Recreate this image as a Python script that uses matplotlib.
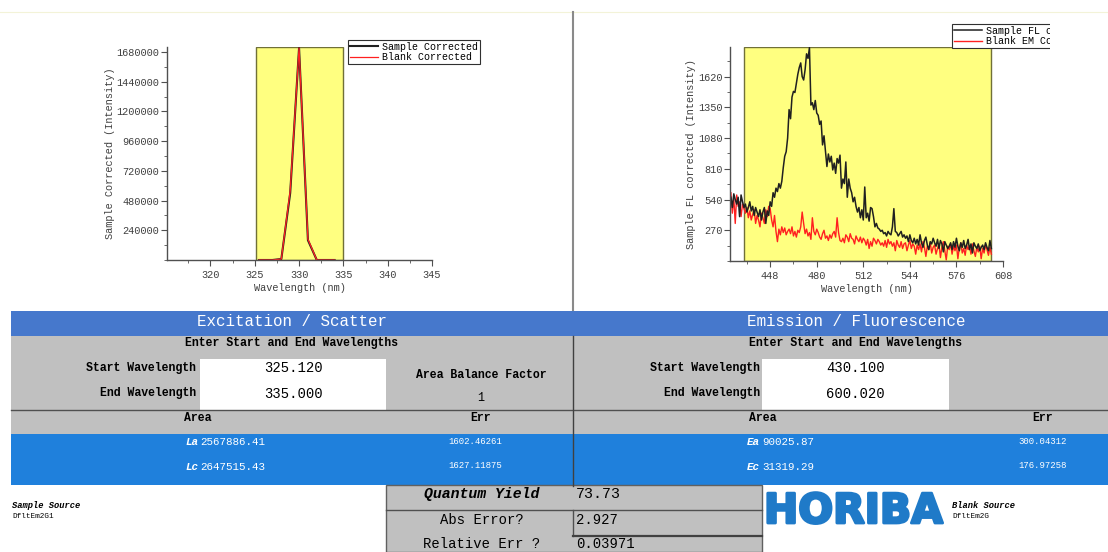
import matplotlib
matplotlib.use("Agg")
import matplotlib.pyplot as plt
import matplotlib.patheffects as pe
from matplotlib.patches import Rectangle
from matplotlib.ticker import MultipleLocator, FixedLocator
import numpy as np

W, H = 1108, 552
MONO = "Liberation Mono"

# excitation / scatter scan
ex_wl = [325.5, 326, 327, 328, 329, 330, 331, 332, 333, 334]
ex_sample = [0, 0, 0, 8000, 540000, 1712000, 160000, 0, 0, 0]
ex_blank = [0, 0, 0, 8000, 560000, 1712000, 168000, 0, 0, 0]
ex_window = (325.12, 335.0)

# emission / fluorescence scan, 1 nm steps 421..600
em_wl = np.arange(421, 601)
em_sample = [
    560, 470, 590, 540, 500, 560, 390, 580, 520, 470,
    500, 430, 470, 520, 440, 480, 400, 470, 430, 390,
    450, 360, 430, 470, 330, 440, 400, 520, 480, 600,
    560, 640, 610, 680, 640, 700, 820, 920, 960, 1080,
    1330, 1250, 1440, 1490, 1480, 1560, 1640, 1700, 1740, 1620,
    1590, 1680, 1820, 1780, 1875, 1370, 1390, 1330, 1410, 1300,
    1280, 1200, 1230, 1020, 1100, 960, 830, 940, 870, 920,
    800, 860, 770, 900, 860, 930, 640, 720, 680, 870,
    560, 720, 640, 600, 520, 560, 480, 430, 470, 380,
    450, 360, 650, 380, 420, 350, 470, 460, 390, 300,
    330, 290, 280, 260, 270, 240, 250, 220, 260, 240,
    230, 300, 460, 260, 250, 220, 240, 260, 210, 230,
    200, 220, 170, 230, 180, 160, 200, 150, 190, 140,
    230, 160, 120, 180, 210, 140, 100, 170, 150, 200,
    160, 130, 190, 110, 180, 150, 80, 170, 140, 110,
    130, 160, 100, 170, 120, 200, 130, 90, 160, 120,
    180, 110, 140, 190, 100, 150, 70, 160, 130, 110,
    150, 90, 120, 140, 100, 160, 120, 90, 180, 110,
]
em_blank = [
    600, 420, 560, 330, 580, 480, 520, 390, 500, 460,
    420, 470, 380, 440, 360, 410, 450, 330, 400, 360,
    300, 420, 380, 330, 450, 390, 480, 460, 360, 300,
    400, 260, 170, 280, 230, 300, 250, 290, 230, 260,
    280, 240, 300, 220, 260, 210, 270, 250, 300, 430,
    330, 240, 280, 220, 250, 190, 380, 260, 230, 280,
    250, 210, 190, 240, 270, 200, 220, 180, 230, 200,
    240, 260, 210, 380, 250, 180, 170, 200, 160, 230,
    210, 170, 240, 200, 190, 150, 220, 190, 170, 210,
    160, 200, 180, 140, 190, 110, 170, 130, 200, 180,
    150, 190, 170, 140, 160, 130, 180, 120, 190, 150,
    170, 130, 160, 90, 180, 140, 120, 170, 110, 150,
    160, 90, 140, 180, 110, 150, 130, 60, 140, 100,
    150, 80, 170, 120, 40, 130, 100, 160, 70, 120,
    140, 60, 110, 150, 30, 120, 170, 90, 10, 130,
    100, 150, 60, 130, 90, 140, 20, 120, 160, 70,
    110, 50, 140, 100, 130, 60, 150, 90, 40, 120,
    80, 130, 20, 110, 70, 140, 100, 50, 120, 60,
]
em_window = (430.10, 600.02)

# results table
ex_range = ["325.120", "335.000"]
em_range = ["430.100", "600.020"]
balance_factor = "1"
ex_rows = [("La", "2567886.41", "1602.46261"), ("Lc", "2647515.43", "1627.11875")]
em_rows = [("Ea", "90025.87", "300.04312"), ("Ec", "31319.29", "176.97258")]
qy_rows = [("Quantum Yield", "73.73"), ("Abs Error?", "2.927"), ("Relative Err ?", "0.03971")]
sample_source = "DfltEm2G1"
blank_source = "DfltEm2G"

HEAD_BLUE = "#4678cc"
ROW_BLUE = "#1f80dc"
GRAY = "#c0c0c0"
WIN_YELLOW = "#ffff80"
LOGO_BLUE = "#1f7ac8"

fig = plt.figure(figsize=(W / 100, H / 100), dpi=100)

# pixel-space layer for the panel/table
ui = fig.add_axes([0, 0, 1, 1], zorder=0)
ui.set_xlim(0, W)
ui.set_ylim(H, 0)
ui.axis("off")


def box(x0, y0, x1, y1, fc, ec="none", lw=0):
    ui.add_patch(Rectangle((x0, y0), x1 - x0, y1 - y0, facecolor=fc,
                           edgecolor=ec, linewidth=lw))


def txt(x, y, s, size=8.3, ha="center", color="black", weight="normal", style="normal"):
    ui.text(x, y, s, ha=ha, va="center", fontsize=size, color=color,
            family=MONO, fontweight=weight, fontstyle=style)


# top rule and the divider between the two spectra
ui.plot([0, W], [12, 12], color="#f3f3d8", lw=0.8)
ui.plot([573, 573], [12, 310], color="#8a8a8a", lw=1.5)

# header bar
box(11, 311, W, 336, HEAD_BLUE)
txt(292, 322, "Excitation / Scatter", size=11.4, color="white")
txt(856, 322, "Emission / Fluorescence", size=11.4, color="white")

# wavelength entry area
box(11, 336, W, 434, GRAY)
for cx, rng, lx, bx in [(292, ex_range, 196, (200, 386)), (856, em_range, 760, (762, 949))]:
    txt(cx, 343, "Enter Start and End Wavelengths", weight="bold")
    txt(lx, 368, "Start Wavelength", ha="right", weight="bold")
    txt(lx, 393, "End Wavelength", ha="right", weight="bold")
    box(bx[0], 359, bx[1], 410, "white")
    mid = (bx[0] + bx[1]) / 2
    txt(mid, 368, rng[0], size=10)
    txt(mid, 394, rng[1], size=10)
txt(481, 375, "Area Balance Factor", weight="bold")
txt(481, 398, balance_factor, size=8.5)
ui.plot([11, W], [410, 410], color="#505050", lw=1)
txt(198, 418, "Area", weight="bold")
txt(481, 418, "Err", weight="bold")
txt(763, 418, "Area", weight="bold")
txt(1043, 418, "Err", weight="bold")

# area rows
box(11, 434, W, 485, ROW_BLUE)
for i, y in enumerate([442, 467]):
    tag, area, err = ex_rows[i]
    txt(198, y, tag, size=7.8, ha="right", color="white", weight="bold", style="italic")
    txt(200, y, area, size=7.8, ha="left", color="white")
    txt(475, y - 1, err, size=6.5, color="white")
    tag, area, err = em_rows[i]
    txt(760, y, tag, size=7.8, ha="right", color="white", weight="bold", style="italic")
    txt(762, y, area, size=7.8, ha="left", color="white")
    txt(1043, y - 1, err, size=6.5, color="white")
ui.plot([573, 573], [336, 486], color="#404040", lw=1)

# quantum yield block
box(386, 485, 762, 552, GRAY, ec="#606060", lw=1)
ui.plot([386, 762], [510, 510], color="#505050", lw=1)
ui.plot([573, 573], [510, 536], color="#505050", lw=1)
ui.plot([573, 762], [536, 536], color="#404040", lw=1.6)
txt(482, 494, qy_rows[0][0], size=10.7, weight="bold", style="italic")
txt(576, 494, qy_rows[0][1], size=10.8, ha="left")
txt(482, 520, qy_rows[1][0], size=10)
txt(576, 520, qy_rows[1][1], size=10, ha="left")
txt(482, 544, qy_rows[2][0], size=10)
txt(576, 544, qy_rows[2][1], size=10, ha="left")

# sources and logo
txt(12, 505, "Sample Source", size=6.3, ha="left", weight="bold", style="italic")
txt(12, 516, sample_source, size=5.5, ha="left")
txt(952, 505, "Blank Source", size=6.3, ha="left", weight="bold", style="italic")
txt(952, 516, blank_source, size=5.5, ha="left")
ui.text(764, 512, "HORIBA", ha="left", va="center", fontsize=29.5, color=LOGO_BLUE,
        family="DejaVu Sans", fontweight="heavy",
        path_effects=[pe.withStroke(linewidth=2, foreground=LOGO_BLUE)])


def style_axes(ax):
    for side in ("top", "right"):
        ax.spines[side].set_visible(False)
    for side in ("left", "bottom"):
        ax.spines[side].set_color("#505050")
        ax.spines[side].set_linewidth(1)
    ax.tick_params(which="major", direction="out", length=4, width=0.8,
                   colors="#505050", labelsize=7.4, labelcolor="#404040")
    ax.tick_params(axis="y", which="major", pad=1.5)
    ax.tick_params(which="minor", direction="out", length=2, width=0.6, colors="#505050")
    for lab in ax.get_xticklabels() + ax.get_yticklabels():
        lab.set_family(MONO)


def px_axes(x0, y0, x1, y1):
    return fig.add_axes([x0 / W, 1 - y1 / H, (x1 - x0) / W, (y1 - y0) / H],
                        facecolor="none", zorder=1)


# excitation spectrum
ax1 = px_axes(167, 47, 432, 260)
ax1.axvspan(*ex_window, ymin=0, ymax=1, facecolor=WIN_YELLOW, edgecolor="#707038", lw=1)
ax1.plot(ex_wl, ex_sample, color="#202020", lw=1.5, label="Sample Corrected")
ax1.plot(ex_wl, ex_blank, color="#ff2020", lw=0.9, label="Blank Corrected")
ax1.set_xlim(315.1, 345)
ax1.set_ylim(0, 1720000)
ax1.xaxis.set_major_locator(FixedLocator([320, 325, 330, 335, 340, 345]))
ax1.xaxis.set_minor_locator(MultipleLocator(2.5))
ax1.yaxis.set_major_locator(FixedLocator(np.arange(240000, 1680001, 240000)))
ax1.yaxis.set_minor_locator(MultipleLocator(120000))
ax1.yaxis.set_major_formatter(lambda v, p: f"{v:.0f}")
ax1.set_xlabel("Wavelength (nm)", family=MONO, fontsize=7.4, color="#404040", labelpad=2)
ax1.set_ylabel("Sample Corrected (Intensity)", family=MONO, fontsize=7.4,
               color="#404040", labelpad=1)
style_axes(ax1)
leg1 = ax1.legend(loc="upper left", bbox_to_anchor=(348 / W, 1 - 40 / H),
                  bbox_transform=fig.transFigure, fancybox=False, framealpha=1,
                  edgecolor="#303030", borderpad=0.15, borderaxespad=0,
                  handlelength=2.8, handletextpad=0.5, labelspacing=0.05,
                  prop={"family": MONO, "size": 7.2})
leg1.get_frame().set_linewidth(0.8)

# emission spectrum
ax2 = px_axes(730, 47, 1003, 261)
ax2.axvspan(*em_window, ymin=0, ymax=1, facecolor=WIN_YELLOW, edgecolor="#707038", lw=1)
ax2.plot(em_wl, em_blank, color="#ff2020", lw=1.0, label="Blank EM Corrected")
ax2.plot(em_wl, em_sample, color="#202020", lw=1.1, label="Sample FL corrected")
ax2.set_xlim(420.4, 608)
ax2.set_ylim(0, 1880)
ax2.xaxis.set_major_locator(FixedLocator([448, 480, 512, 544, 576, 608]))
ax2.xaxis.set_minor_locator(MultipleLocator(16))
ax2.yaxis.set_major_locator(FixedLocator(np.arange(270, 1621, 270)))
ax2.yaxis.set_minor_locator(MultipleLocator(135))
ax2.set_xlabel("Wavelength (nm)", family=MONO, fontsize=7.4, color="#404040", labelpad=2)
ax2.set_ylabel("Sample FL corrected (Intensity)", family=MONO, fontsize=7.4,
               color="#404040", labelpad=1)
style_axes(ax2)
handles, labels = ax2.get_legend_handles_labels()
leg2 = ax2.legend(handles[::-1], labels[::-1], loc="upper left",
                  bbox_to_anchor=(952 / W, 1 - 24 / H),
                  bbox_transform=fig.transFigure, fancybox=False, framealpha=1,
                  edgecolor="#303030", borderpad=0.15, borderaxespad=0,
                  handlelength=2.8, handletextpad=0.5, labelspacing=0.05,
                  prop={"family": MONO, "size": 7.2})
leg2.get_frame().set_linewidth(0.8)

# the spectrum pane ends at x=1050, cutting off the legend
fig.patches.append(Rectangle((1050 / W, 1 - 60 / H), (W - 1050) / W, 44 / H,
                             transform=fig.transFigure, facecolor="white",
                             edgecolor="none", zorder=10))

fig.savefig("out.png", dpi=100)
